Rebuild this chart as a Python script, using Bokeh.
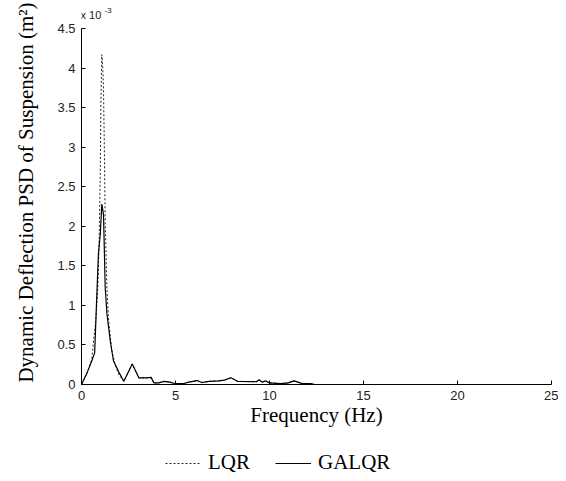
from bokeh.plotting import figure
from bokeh.models import Range1d, FixedTicker, Legend, LegendItem, Label, ColumnDataSource
from bokeh.layouts import column
from bokeh.embed import file_html
from bokeh.resources import INLINE

# Frequency (Hz) and PSD values (x 10^-3 m^2)
freq_lqr = [0.0, 0.3, 0.55, 0.64, 0.76, 0.87, 0.94, 1.0, 1.03, 1.08, 1.13, 1.17, 1.22, 1.26,
            1.35, 1.44, 1.61, 1.8, 2.0, 2.25, 2.7, 3.05, 3.5, 3.7, 3.85, 4.1, 4.4, 4.7, 5.0,
            5.4, 5.7, 6.15, 6.4, 6.8, 7.3, 7.6, 7.95, 8.3, 9.3, 9.45, 9.6, 9.8, 10.0, 10.6,
            11.0, 11.3, 11.7, 12.2, 12.4, 25.0]
psd_lqr = [0.0, 0.15, 0.32, 0.55, 0.8, 1.23, 1.86, 2.7, 3.54, 4.17, 4.0, 3.75, 2.9, 2.07,
           1.23, 0.81, 0.43, 0.24, 0.12, 0.04, 0.26, 0.085, 0.085, 0.09, 0.02, 0.02, 0.04, 0.03, 0.01,
           0.01, 0.03, 0.05, 0.025, 0.04, 0.045, 0.055, 0.085, 0.04, 0.035, 0.06, 0.03, 0.045, 0.02, 0.01,
           0.02, 0.045, 0.015, 0.012, 0.0, 0.0]

freq_galqr = [0.0, 0.3, 0.55, 0.7, 0.81, 0.9, 1.0, 1.08, 1.17, 1.22, 1.26, 1.35, 1.53, 1.7,
              2.0, 2.25, 2.7, 3.05, 3.5, 3.7, 3.85, 4.1, 4.4, 4.7, 5.0, 5.4, 5.7, 6.15, 6.4,
              6.8, 7.3, 7.6, 7.95, 8.3, 9.3, 9.45, 9.6, 9.8, 10.0, 10.6, 11.0, 11.3, 11.7,
              12.2, 12.4, 25.0]
psd_galqr = [0.0, 0.15, 0.3, 0.4, 1.1, 1.65, 1.9, 2.28, 2.15, 1.65, 1.23, 0.9, 0.55, 0.3,
             0.15, 0.04, 0.26, 0.085, 0.085, 0.09, 0.02, 0.02, 0.04, 0.03, 0.01, 0.01, 0.03, 0.05, 0.025,
             0.04, 0.045, 0.055, 0.085, 0.04, 0.035, 0.06, 0.03, 0.045, 0.02, 0.01, 0.02, 0.045, 0.015,
             0.012, 0.0, 0.0]

x_ticks = [0, 5, 10, 15, 20, 25]
y_ticks = [0, 0.5, 1, 1.5, 2, 2.5, 3, 3.5, 4, 4.5]
series_names = ["LQR", "GALQR"]

Y_MAX = 4.5
TOP_PAD_PX = 28.0
FRAME_H = 384.0
y_end = Y_MAX * FRAME_H / (FRAME_H - TOP_PAD_PX)

p = figure(width=558, height=436, output_backend="svg", toolbar_location=None,
           x_range=Range1d(0, 25), y_range=Range1d(0, y_end))
p.min_border_left = 81
p.min_border_right = 7
p.min_border_top = 0
p.min_border_bottom = 52
p.outline_line_color = None
p.grid.visible = False

for ax in (p.xaxis[0], p.yaxis[0]):
    ax.major_tick_in = 4
    ax.major_tick_out = 0
    ax.minor_tick_line_color = None
    ax.axis_line_color = "black"
    ax.major_tick_line_color = "black"
    ax.major_label_text_font = "Liberation Sans"
    ax.major_label_text_font_size = "13px"
    ax.major_label_text_color = "#222222"
    ax.axis_label_text_font = "Liberation Serif"
    ax.axis_label_text_font_size = "21px"
    ax.axis_label_text_font_style = "normal"
    ax.axis_label_text_color = "black"

p.yaxis.bounds = (0, Y_MAX)
p.xaxis.ticker = FixedTicker(ticks=x_ticks)
p.yaxis.ticker = FixedTicker(ticks=y_ticks)
p.xaxis.major_label_overrides = {t: str(t) for t in x_ticks}
p.yaxis.major_label_overrides = {t: ("%g" % t) for t in y_ticks}
p.xaxis.major_label_standoff = 6
p.yaxis.major_label_standoff = 6
p.xaxis.axis_label = "Frequency (Hz)"
p.yaxis.axis_label = "Dynamic Deflection PSD of Suspension (m\u00b2)"
p.xaxis.axis_label_standoff = 0
p.yaxis.axis_label_standoff = 16

LQR_STYLE = dict(line_color="#222222", line_width=1, line_dash="2 2")
GALQR_STYLE = dict(line_color="black", line_width=1.2)

p.line(freq_lqr, psd_lqr, **LQR_STYLE)
p.line(freq_galqr, psd_galqr, **GALQR_STYLE)

p.add_layout(Label(x=0, y=Y_MAX, x_offset=-1, y_offset=8, text="x 10",
                   text_font="Liberation Sans", text_font_size="11px", text_color="#222222"))
p.add_layout(Label(x=0, y=Y_MAX, x_offset=23, y_offset=16, text="-3",
                   text_font="Liberation Sans", text_font_size="8px", text_color="#222222"))

# legend strip below the chart (key renderers hold no visible points)
p2 = figure(width=558, height=42, output_backend="svg", toolbar_location=None,
            x_range=Range1d(0, 1), y_range=Range1d(0, 1),
            x_axis_location=None, y_axis_location=None, min_border=0)
p2.outline_line_color = None
p2.grid.visible = False
key_src = ColumnDataSource(data=dict(x=[float("nan")], y=[float("nan")]))
l1 = p2.line("x", "y", source=key_src, **LQR_STYLE)
l2 = p2.line("x", "y", source=key_src, **GALQR_STYLE)
legend = Legend(items=[LegendItem(label=series_names[0], renderers=[l1]),
                       LegendItem(label=series_names[1], renderers=[l2])],
                orientation="horizontal", location=(84, 3))
legend.padding = 0
legend.margin = 0
legend.spacing = 25
legend.glyph_width = 36
legend.glyph_height = 20
legend.label_height = 20
legend.label_standoff = 7
legend.border_line_color = None
legend.background_fill_alpha = 0
legend.label_text_font = "Liberation Serif"
legend.label_text_font_size = "21px"
legend.label_text_color = "black"
p2.add_layout(legend, "center")

layout = column(p, p2, spacing=0)
open("out.html", "w").write(file_html(layout, INLINE))
